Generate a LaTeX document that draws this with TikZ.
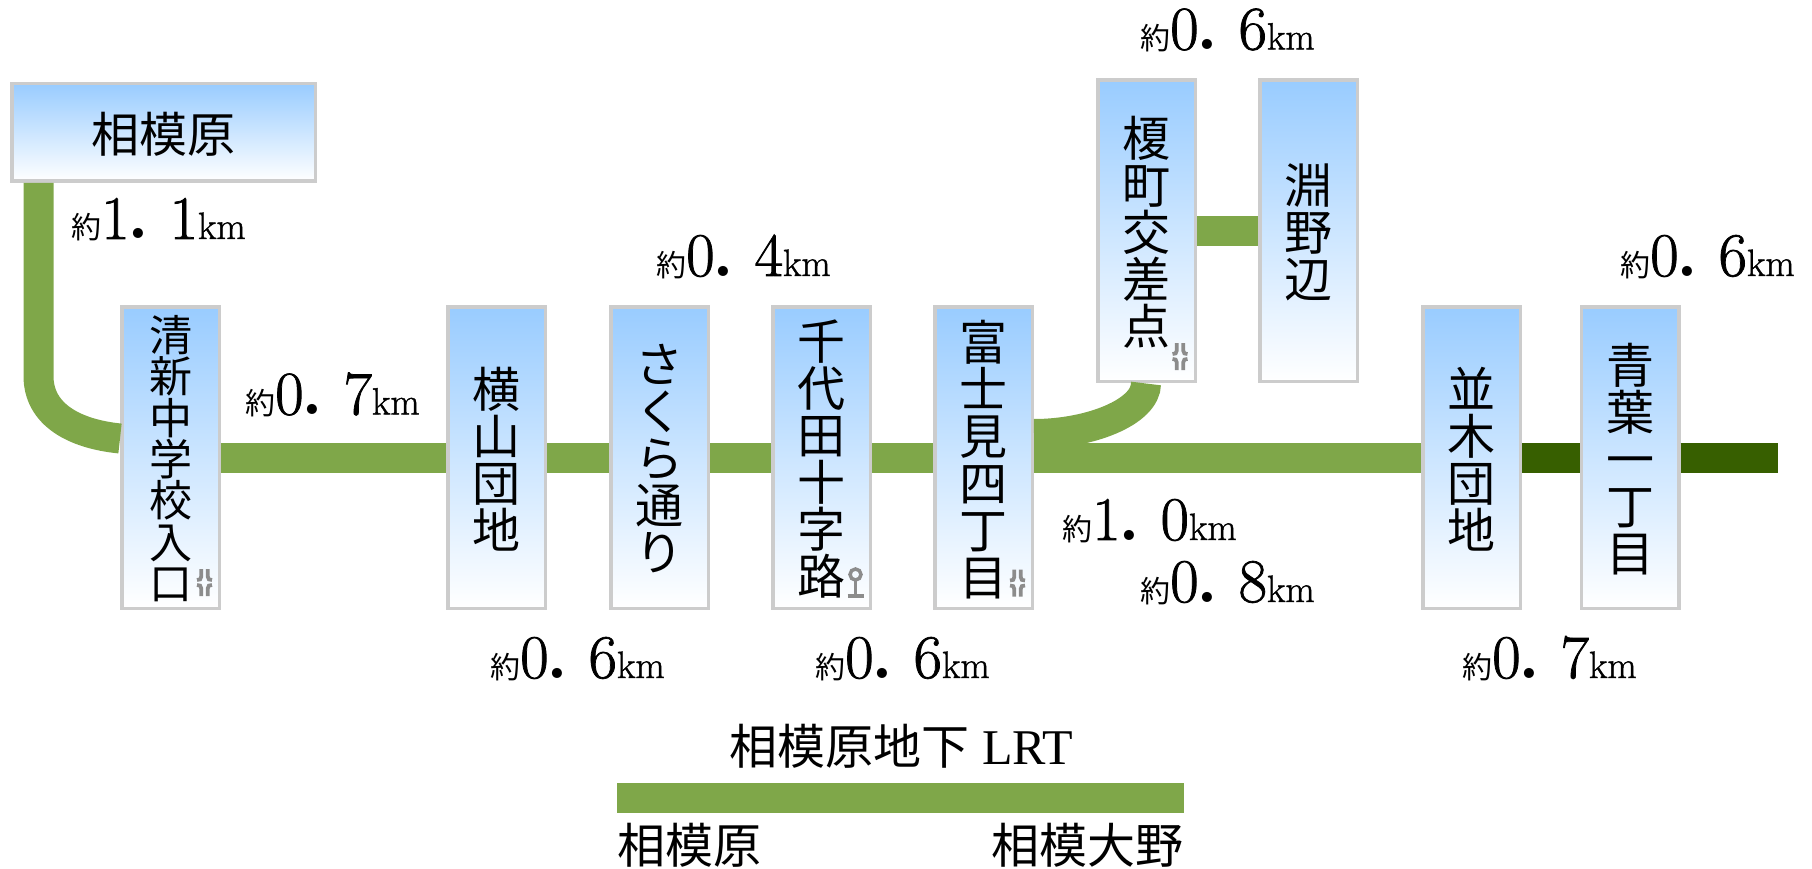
\documentclass[tikz,border=0pt]{standalone}
\usepackage{fontspec}
\usepackage{xcolor}
\newfontfamily\cjk{Noto Sans CJK JP}
\newfontfamily\lrtfont{Liberation Serif}
\newfontfamily\digitfont[FakeBold=1.2]{Latin Modern Roman}
\definecolor{railgreen}{HTML}{7FA749}
\definecolor{raildark}{HTML}{375F00}
\definecolor{boxblue}{HTML}{99CCFF}
\definecolor{boxedge}{HTML}{CCCCCC}
\definecolor{icongray}{HTML}{8C8C8C}
\newcommand{\namefont}[2]{\cjk\fontsize{#1}{#2}\selectfont\lineskiplimit=-100pt}
\newcommand{\dist}[2]{{\cjk\fontsize{30}{30}\selectfont 約}{\digitfont\fontsize{62}{62}\selectfont #1\kern-2pt{\normalfont\bfseries\fontsize{70}{70}\selectfont .}\kern20pt #2}{\digitfont\fontsize{38}{38}\selectfont km}}

\begin{document}
\begin{tikzpicture}[x=1pt, y=-1pt,
    stop/.style={draw=boxedge, line width=3.5pt, top color=boxblue, bottom color=white, inner sep=0pt, align=center, minimum width=97.5pt, minimum height=301.5pt, text depth=0pt, font=\namefont{48}{47}},
    rail/.style={line width=30pt, railgreen},
    raildk/.style={line width=30pt, raildark},
    dst/.style={anchor=base west, inner sep=0pt},
    caption/.style={inner sep=0pt, font=\namefont{48}{48}},
    iconline/.style={line width=3.8pt, icongray},
    road/.pic={
        \draw[iconline] (-3.2,-13.5) -- (-3.2,-6) .. controls (-3.2,-3) and (-5,-2.5) .. (-7.5,-2.5);
        \draw[iconline] (3.2,-13.5) -- (3.2,-6) .. controls (3.2,-3) and (5,-2.5) .. (7.5,-2.5);
        \draw[iconline] (-7.5,2.5) .. controls (-5,2.5) and (-3.2,3) .. (-3.2,6) -- (-3.2,13.5);
        \draw[iconline] (7.5,2.5) .. controls (5,2.5) and (3.2,3) .. (3.2,6) -- (3.2,13.5);
    }]
    \useasboundingbox (0,0) rectangle (1812,869);

    % Stations
    \node[stop, minimum width=303.5pt, minimum height=97.5pt] (sagamihara) at (163.5,132.5) {相模原};
    \node[stop, font=\namefont{43}{41.3}] (kiyoshin) at (170.5,457.5) {清\\新\\中\\学\\校\\入\\口};
    \node[stop] (yokoyama) at (496.5,457.5) {横\\山\\団\\地};
    \node[stop] (sakura) at (659.5,457.5) {さ\\く\\ら\\通\\り};
    \node[stop] (chiyoda) at (821.5,457.5) {千\\代\\田\\十\\字\\路};
    \node[stop] (fujimi) at (983.7,457.5) {富\\士\\見\\四\\丁\\目};
    \node[stop] (enoki) at (1146.5,230.8) {榎\\町\\交\\差\\点};
    \node[stop] (fuchinobe) at (1308.7,230.8) {淵\\野\\辺};
    \node[stop] (namiki) at (1471.5,457.5) {並\\木\\団\\地};
    \node[stop] (aoba) at (1630,457.5) {青\\葉\\一\\丁\\目};

    % Line
    \coordinate (bend) at (38.5,376);
    \coordinate (kiyoin) at (120,438.5);
    \coordinate (fujiout) at (1034,434);
    \coordinate (enoout) at (1146,383.5);
    \coordinate (lineend) at (1778,457.5);
    \draw[rail] (bend |- sagamihara.south) -- (bend) .. controls (38.5,415) and (75,434) .. (kiyoin);
    \draw[rail] (kiyoshin.east) -- (yokoyama.west);
    \draw[rail] (yokoyama.east) -- (sakura.west);
    \draw[rail] (sakura.east) -- (chiyoda.west);
    \draw[rail] (chiyoda.east) -- (fujimi.west);
    \draw[rail] (fujimi.east) -- (namiki.west);
    \draw[rail] (enoout) .. controls (1146,412) and (1090,434) .. (fujiout);
    \draw[rail] (enoki.east) -- (fuchinobe.west);
    \draw[raildk] (namiki.east) -- (aoba.west);
    \draw[raildk] (aoba.east) -- (lineend);

    % Icons
    \pic at (204.5,582.5) {road};
    \pic at (1180,356.5) {road};
    \pic at (1017.5,583) {road};
    \draw[line width=3.5pt, icongray] (855.5,574.5) circle (5.5);
    \draw[line width=3.5pt, icongray] (855.5,580) -- (855.5,596);
    \draw[line width=3.5pt, icongray] (847.5,596) -- (863.5,596);

    % Distances
    \node[dst] (d1) at (71,239) {\dist{1}{1}};
    \node[dst] (d2) at (245,414.5) {\dist{0}{7}};
    \node[dst] (d3) at (490,678) {\dist{0}{6}};
    \node[dst] (d4) at (656,276) {\dist{0}{4}};
    \node[dst] (d5) at (815,678) {\dist{0}{6}};
    \node[dst] (d6) at (1140,49.5) {\dist{0}{6}};
    \node[dst] (d7) at (1062,540) {\dist{1}{0}};
    \node[dst] (d8) at (1140,602) {\dist{0}{8}};
    \node[dst] (d9) at (1462,678) {\dist{0}{7}};
    \node[dst] (d10) at (1620,276) {\dist{0}{6}};

    % Legend
    \coordinate (barleft) at (617,798);
    \coordinate (barright) at (1184,798);
    \draw[rail] (barleft) -- (barright);
    \node[caption] (title) at (901.5,746) {相模原地下{\lrtfont\fontsize{50}{50}\selectfont\ LRT}};
    \node[caption, anchor=west] (from) at (617,845) {相模原};
    \node[caption, anchor=east] (to) at (1184,845) {相模大野};
\end{tikzpicture}
\end{document}
